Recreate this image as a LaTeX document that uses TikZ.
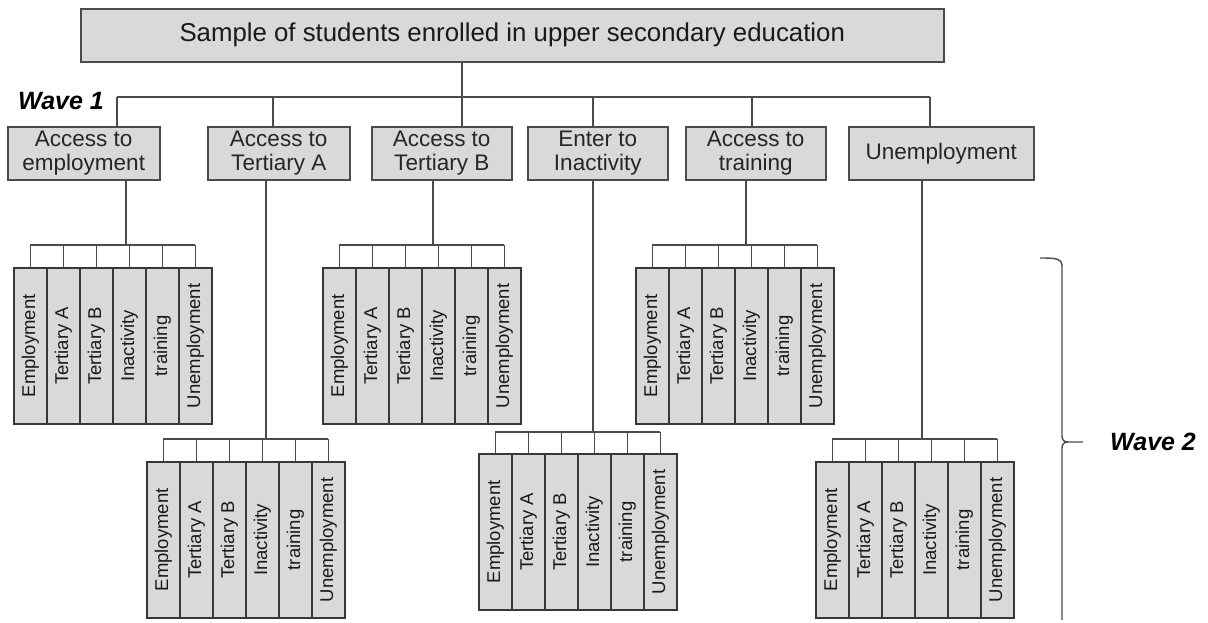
\documentclass[tikz,border=0pt]{standalone}
\usepackage{fontspec}
\setmainfont{Liberation Sans}
\definecolor{boxfill}{RGB}{217,217,217}
\definecolor{edge}{RGB}{75,75,75}
\definecolor{baredge}{RGB}{55,55,55}
\newcommand\DrawBarGroup[6]{%
  \foreach \lab [count=\i] in {Employment,Tertiary A,Tertiary B,Inactivity,training,Unemployment}{
    \node[bar] (#1\i) at ({#2+(\i-1)*33}, #3) {\rotatebox{90}{\vphantom{Eg}\lab}};
  }
  \draw[conn] (#5.south -| #6,0) -- (#6,#4);
  \draw[conn] (#11.north |- 0,#4) -- (#16.north |- 0,#4);
  \foreach \i in {1,...,6}{\draw[conn] (#1\i.north) -- (#1\i.north |- 0,#4);}
}
\begin{document}
\begin{tikzpicture}[x=1pt,y=-1pt,
  topbox/.style={draw=edge, line width=1.5pt, fill=boxfill, anchor=north west, inner sep=0pt,
    minimum width=863pt, minimum height=53pt, text=black!90, font=\fontsize{25.8}{28}\selectfont},
  wavebox/.style={draw=edge, line width=1.5pt, fill=boxfill, anchor=north west, inner sep=0pt,
    minimum height=53pt, align=center, text=black!85, font=\fontsize{22.5}{24.5}\selectfont},
  bar/.style={draw=baredge, line width=1.8pt, fill=boxfill, anchor=north west, inner sep=0pt,
    minimum width=33pt, minimum height=156pt, text=black!90, font=\fontsize{18.5}{20}\selectfont},
  conn/.style={draw=edge, line width=1.4pt},
  wavelabel/.style={anchor=west, inner sep=0pt, font=\bfseries\itshape\fontsize{25}{28}\selectfont}
]
\useasboundingbox[fill=white] (0,0) rectangle (1208,622);

% top box
\node[topbox] (top) at (80,8) {Sample of students enrolled in upper secondary education};

% wave 1 boxes
\node[wavebox, minimum width=152pt] (b1) at (7,126) {Access to\\employment};
\node[wavebox, minimum width=142pt] (b2) at (207,126) {Access to\\Tertiary A};
\node[wavebox, minimum width=140pt] (b3) at (371,126) {Access to\\Tertiary B};
\node[wavebox, minimum width=140pt] (b4) at (527,126) {Enter to\\Inactivity};
\node[wavebox, minimum width=140pt] (b5) at (685,126) {Access to\\training};
\node[wavebox, minimum width=185pt] (b6) at (848,126) {Unemployment};

% tree connectors, level 1
\coordinate (hub) at (462,97);
\coordinate (j1) at (117,97);
\coordinate (j2) at (273,97);
\coordinate (j4) at (593,97);
\coordinate (j5) at (752,97);
\coordinate (j6) at (930,97);
\draw[conn] (top.south -| hub) -- (hub);
\draw[conn] (j1) -- (j6);
\draw[conn] (j1) -- (j1 |- b1.north);
\draw[conn] (j2) -- (j2 |- b2.north);
\draw[conn] (hub) -- (hub |- b3.north);
\draw[conn] (j4) -- (j4 |- b4.north);
\draw[conn] (j5) -- (j5 |- b5.north);
\draw[conn] (j6) -- (j6 |- b6.north);

% wave 2 groups
\DrawBarGroup{ga}{13}{267}{245}{b1}{126}
\DrawBarGroup{gb}{146}{461}{439}{b2}{266}
\DrawBarGroup{gc}{322}{267}{245}{b3}{433}
\DrawBarGroup{gd}{478}{453}{432}{b4}{593}
\DrawBarGroup{ge}{635}{267}{245}{b5}{746}
\DrawBarGroup{gf}{815}{461}{439}{b6}{922}

% labels
\node[wavelabel] (w1) at (18,101) {Wave 1};
\node[wavelabel] (w2) at (1110,442) {Wave 2};

% brace
\coordinate (brtop) at (1040,258);
\coordinate (brmid) at (1083,442);
\coordinate (brbot) at (1062,620);
\draw[conn] (brtop) .. controls (1054,258) and (1062,258) .. (1062,266) -- (1062,436)
  .. controls (1062,440) and (1064,442) .. (1068,442) -- (brmid);
\draw[conn] (1068,442) .. controls (1064,442) and (1062,444) .. (1062,448) -- (brbot);
\end{tikzpicture}
\end{document}
